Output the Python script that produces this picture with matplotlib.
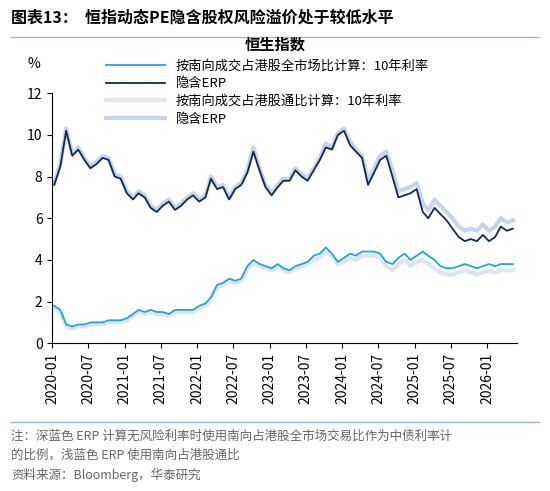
import numpy as np
import pandas as pd
import matplotlib.pyplot as plt
import matplotlib.dates as mdates

plt.rcParams['font.family'] = ['Noto Sans CJK SC', 'DejaVu Sans']

dates = pd.date_range('2020-01-01', periods=77, freq='MS') + pd.Timedelta(days=10)

erp_all = [7.6, 8.5, 10.2, 9.0, 9.3, 8.8, 8.4, 8.6, 8.9, 8.8, 8.0, 7.9,
           7.2, 6.9, 7.2, 7.0, 6.5, 6.3, 6.6, 6.8, 6.4, 6.6, 6.9, 7.1,
           6.8, 7.0, 7.9, 7.4, 7.5, 6.9, 7.4, 7.6, 8.2, 9.2, 8.3, 7.5,
           7.1, 7.5, 7.8, 7.8, 8.3, 8.0, 7.8, 8.3, 8.8, 9.4, 9.3, 10.0,
           10.2, 9.5, 9.2, 8.9, 7.6, 8.2, 8.8, 9.0, 8.0, 7.0, 7.1, 7.2,
           7.4, 6.3, 6.0, 6.5, 6.2, 5.9, 5.5, 5.1, 4.9, 5.0, 4.9, 5.2,
           4.9, 5.1, 5.6, 5.4, 5.5]
rate_all = [1.8, 1.6, 0.9, 0.8, 0.9, 0.9, 1.0, 1.0, 1.0, 1.1, 1.1, 1.1,
            1.2, 1.4, 1.6, 1.5, 1.6, 1.5, 1.5, 1.4, 1.6, 1.6, 1.6, 1.6,
            1.8, 1.9, 2.2, 2.8, 2.9, 3.1, 3.0, 3.1, 3.7, 4.0, 3.8, 3.7,
            3.6, 3.8, 3.6, 3.5, 3.7, 3.8, 3.9, 4.2, 4.3, 4.6, 4.3, 3.9,
            4.1, 4.3, 4.2, 4.4, 4.4, 4.4, 4.3, 3.9, 3.8, 4.1, 4.3, 4.0,
            4.2, 4.4, 4.2, 4.0, 3.7, 3.6, 3.6, 3.7, 3.8, 3.7, 3.6, 3.7,
            3.8, 3.7, 3.8, 3.8, 3.8]
erp_sc = [7.7, 8.6, 10.3, 9.1, 9.4, 8.9, 8.5, 8.7, 9.0, 8.9, 8.1, 8.0,
          7.3, 7.0, 7.3, 7.1, 6.6, 6.4, 6.7, 6.9, 6.5, 6.7, 7.0, 7.2,
          6.9, 7.1, 8.0, 7.5, 7.6, 7.0, 7.5, 7.7, 8.3, 9.4, 8.4, 7.6,
          7.2, 7.6, 7.9, 7.9, 8.4, 8.1, 7.9, 8.4, 8.9, 9.6, 9.4, 10.1,
          10.3, 9.7, 9.3, 9.0, 7.8, 8.4, 9.0, 9.2, 8.3, 7.3, 7.4, 7.5,
          7.7, 6.7, 6.4, 6.9, 6.6, 6.3, 6.0, 5.6, 5.4, 5.5, 5.4, 5.7,
          5.4, 5.6, 6.0, 5.8, 5.9]
rate_sc = [1.7, 1.5, 0.8, 0.7, 0.8, 0.8, 0.9, 0.9, 0.9, 1.0, 1.0, 1.0,
           1.1, 1.3, 1.5, 1.4, 1.5, 1.4, 1.4, 1.3, 1.5, 1.5, 1.5, 1.5,
           1.7, 1.8, 2.1, 2.7, 2.8, 3.0, 2.9, 3.0, 3.6, 3.8, 3.7, 3.6,
           3.5, 3.7, 3.5, 3.4, 3.6, 3.7, 3.8, 4.0, 4.1, 4.4, 4.2, 3.8,
           3.9, 4.1, 4.0, 4.2, 4.2, 4.2, 4.1, 3.7, 3.5, 3.8, 4.0, 3.7,
           3.9, 4.0, 3.8, 3.6, 3.4, 3.3, 3.3, 3.4, 3.5, 3.4, 3.3, 3.4,
           3.5, 3.4, 3.5, 3.5, 3.5]

ticks = pd.date_range('2020-01-01', '2026-01-01', freq='6MS')

fig = plt.figure(figsize=(5.5, 4.91), dpi=100)
ax = fig.add_axes([0.095, 0.301, 0.845, 0.509])

ax.plot(dates, rate_sc, color='#dde6ee', lw=3, label='按南向成交占港股通比计算：10年利率', zorder=1)
ax.plot(dates, erp_sc, color='#c9d3ea', lw=3, label='隐含ERP', zorder=1)
ax.plot(dates, rate_all, color='#1ea6e0', lw=1.3, label='按南向成交占港股全市场比计算：10年利率', zorder=2)
ax.plot(dates, erp_all, color='#0d2a5c', lw=1.3, label='隐含ERP', zorder=2)

ax.set_ylim(0, 12)
ax.set_yticks(range(0, 13, 2))
ax.set_xlim(pd.Timestamp('2020-01-01'), pd.Timestamp('2026-06-01'))
ax.set_xticks(ticks)
ax.xaxis.set_major_formatter(mdates.DateFormatter('%Y-%m'))
plt.setp(ax.get_xticklabels(), rotation=90)
ax.tick_params(labelsize=10, direction='out')
for s in ['top', 'right']:
    ax.spines[s].set_visible(False)

h, l = ax.get_legend_handles_labels()
order = [2, 3, 0, 1]
fig.legend([h[i] for i in order], [l[i] for i in order], loc='upper left',
           bbox_to_anchor=(0.18, 0.892), frameon=False, fontsize=9.5,
           handlelength=4.5, labelspacing=0.35, borderpad=0)
fig.text(0.5, 0.9, '恒生指数', ha='center', fontsize=11, fontweight='bold')
fig.text(0.05, 0.862, '%', fontsize=10)

fig.text(0.02, 0.965, '图表13：  恒指动态PE隐含股权风险溢价处于较低水平', fontsize=11.5,
         fontweight='bold', va='center')
fig.add_artist(plt.Line2D([0.02, 0.98], [0.925, 0.925], color='#9fb6cc', lw=1))
fig.add_artist(plt.Line2D([0.02, 0.98], [0.14, 0.14], color='#9fb6cc', lw=1))
fig.text(0.02, 0.105, '注：深蓝色 ERP 计算无风险利率时使用南向占港股全市场交易比作为中债利率计', fontsize=9, color='#666666')
fig.text(0.02, 0.065, '的比例，浅蓝色 ERP 使用南向占港股通比', fontsize=9, color='#666666')
fig.text(0.02, 0.025, '资料来源：Bloomberg，华泰研究', fontsize=9, color='#666666')

fig.savefig('out.png', dpi=100)
